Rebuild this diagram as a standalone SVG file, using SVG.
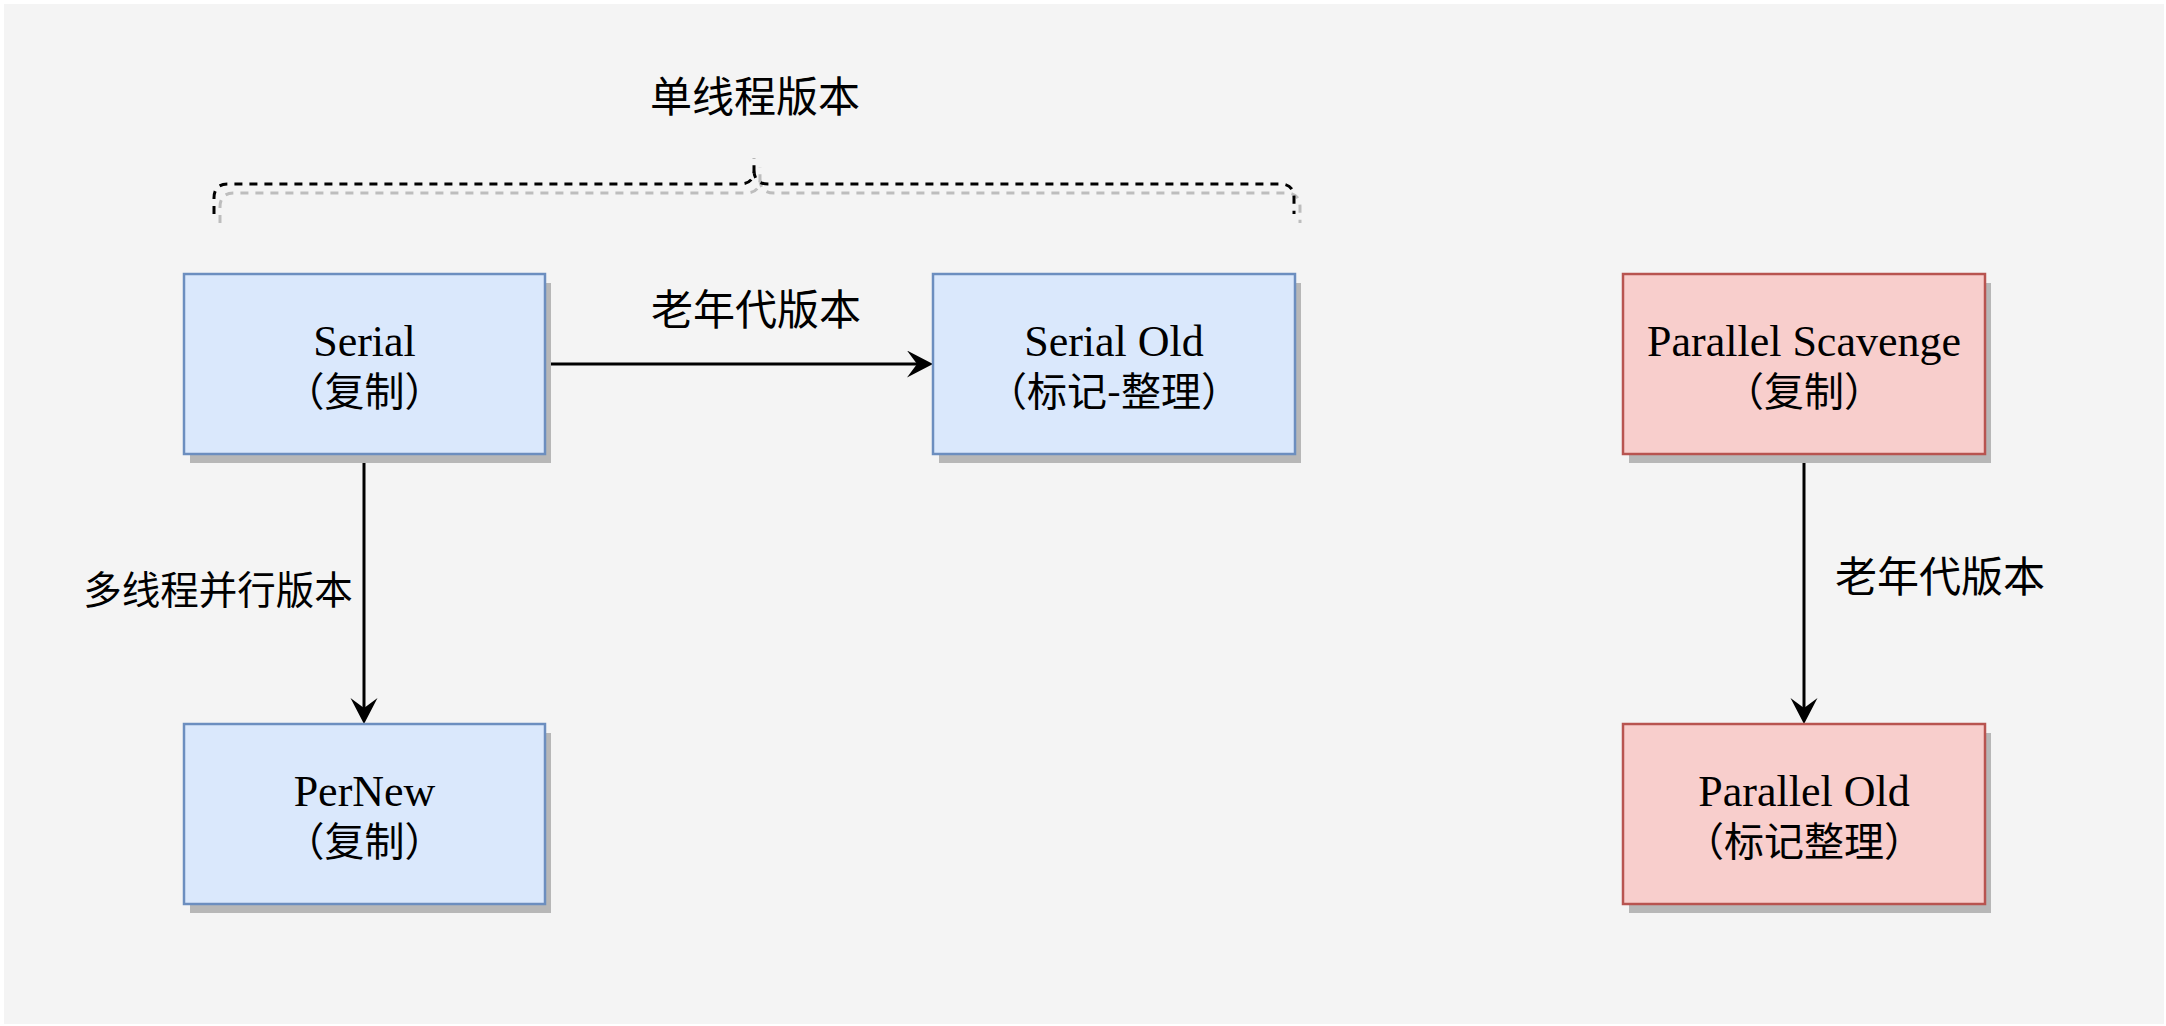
<svg xmlns="http://www.w3.org/2000/svg" width="2166" height="1026" viewBox="0 0 2166 1026">
  <style>
    .shadow { fill: #b7b7b7; stroke: none; }
    .blue { fill: #dae8fc; stroke: #6c8ebf; stroke-width: 2.5; }
    .red { fill: #f8cecc; stroke: #b85450; stroke-width: 2.5; }
    .t1 { font-family: "Liberation Serif", "Noto Sans CJK SC", serif; font-size: 44px; fill: #000; text-anchor: middle; }
    .t2 { font-family: "Noto Sans CJK SC", sans-serif; font-size: 40px; fill: #000; text-anchor: middle; }
    .lbl { font-family: "Noto Sans CJK SC", sans-serif; font-size: 42px; fill: #000; text-anchor: middle; }
    .edge { fill: none; stroke: #000; stroke-width: 3; }
    .brace { fill: none; stroke-width: 3; stroke-dasharray: 8 7; }
  </style>
  <defs>
    <marker id="arr" markerUnits="userSpaceOnUse" markerWidth="28" markerHeight="28" refX="10" refY="13.5" orient="auto" viewBox="0 0 28 28">
      <path d="M0,0 L26,13.5 L0,27 L10,13.5 Z" fill="#000"/>
    </marker>
  </defs>
  <rect x="0" y="0" width="2166" height="1026" fill="#ffffff"/>
  <rect x="4" y="4" width="2160" height="1020" fill="#f4f4f4"/>

  <g id="brace">
    <path class="brace" stroke="#bdbdbd" transform="translate(6,9)" d="M214,214 V198 Q214,184 228,184 H740 Q754,184 754,170 V158 M754,170 Q754,184 768,184 H1280 Q1294,184 1294,198 V214"/>
    <path class="brace" stroke="#000" d="M214,214 V198 Q214,184 228,184 H740 Q754,184 754,170 V158 M754,170 Q754,184 768,184 H1280 Q1294,184 1294,198 V214"/>
    <text class="lbl" x="755" y="112">单线程版本</text>
  </g>

  <g id="connectors">
    <g id="e1">
      <path class="edge" d="M545,364 H917" marker-end="url(#arr)"/>
      <text class="lbl" x="756" y="325">老年代版本</text>
    </g>
    <g id="e2">
      <path class="edge" d="M364,454 V708" marker-end="url(#arr)"/>
      <text class="lbl" x="218" y="604" style="font-size:38.5px">多线程并行版本</text>
    </g>
    <g id="e3">
      <path class="edge" d="M1804,454 V708" marker-end="url(#arr)"/>
      <text class="lbl" x="1940" y="592">老年代版本</text>
    </g>
  </g>

  <g id="serial">
    <rect class="shadow" x="190" y="283" width="361" height="180"/>
    <rect class="blue" x="184" y="274" width="361" height="180"/>
    <text class="t1" x="364.5" y="356">Serial</text>
    <text class="t2" x="364.5" y="406">（复制）</text>
  </g>

  <g id="serial-old">
    <rect class="shadow" x="939" y="283" width="362" height="180"/>
    <rect class="blue" x="933" y="274" width="362" height="180"/>
    <text class="t1" x="1114" y="356">Serial Old</text>
    <text class="t2" x="1114" y="406">（标记-整理）</text>
  </g>

  <g id="parallel-scavenge">
    <rect class="shadow" x="1629" y="283" width="362" height="180"/>
    <rect class="red" x="1623" y="274" width="362" height="180"/>
    <text class="t1" x="1804" y="356">Parallel Scavenge</text>
    <text class="t2" x="1804" y="406">（复制）</text>
  </g>

  <g id="pernew">
    <rect class="shadow" x="190" y="733" width="361" height="180"/>
    <rect class="blue" x="184" y="724" width="361" height="180"/>
    <text class="t1" x="364.5" y="806">PerNew</text>
    <text class="t2" x="364.5" y="856">（复制）</text>
  </g>

  <g id="parallel-old">
    <rect class="shadow" x="1629" y="733" width="362" height="180"/>
    <rect class="red" x="1623" y="724" width="362" height="180"/>
    <text class="t1" x="1804" y="806">Parallel Old</text>
    <text class="t2" x="1804" y="856">（标记整理）</text>
  </g>
</svg>
